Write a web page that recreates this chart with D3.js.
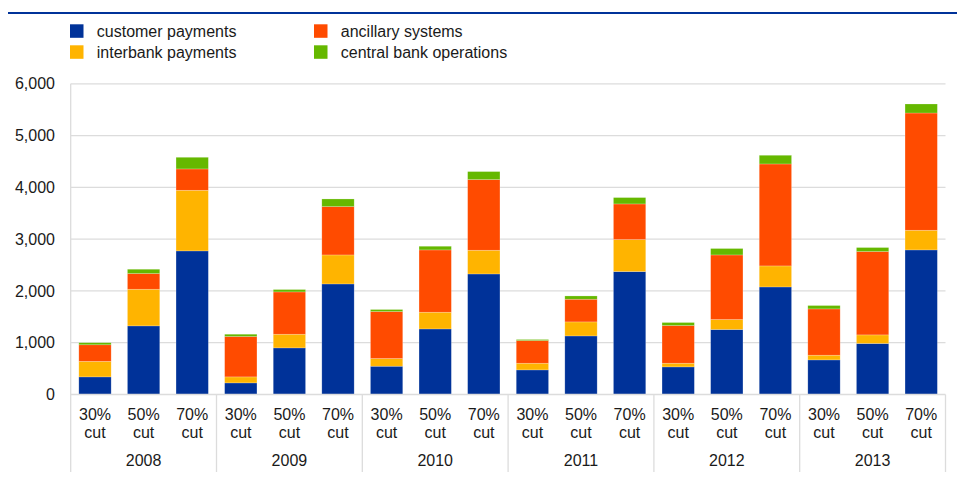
<!DOCTYPE html>
<html><head><meta charset="utf-8">
<script src="https://cdn.jsdelivr.net/npm/d3@7"></script>
<style>
body{margin:0;background:#fff;}
svg{display:block;font-family:"Liberation Sans",Arial,sans-serif;}
</style></head>
<body><svg id="c" width="957" height="480"></svg>
<script>
const years = ["2008","2009","2010","2011","2012","2013"];
const cuts = ["30%","50%","70%"];
const seriesNames = ["customer payments","interbank payments","ancillary systems","central bank operations"];
const seriesColors = ["#003299","#FFB400","#FF4B00","#65B800"];
const customerPayments = [340,1325,2773, 224,900,2135, 546,1266,2328, 475,1131,2374, 533,1255,2077, 668,985,2792];
const interbankPayments = [300,708,1171, 116,264,560, 149,323,458, 129,271,618, 71,193,406, 91,166,380];
const ancillarySystems = [320,303,412, 780,817,934, 907,1203,1365, 438,438,688, 728,1247,1969, 894,1610,2264];
const centralBankOps = [40,83,225, 44,46,147, 39,71,154, 20,63,123, 58,124,168, 65,77,174];
const yTicks = [0,1000,2000,3000,4000,5000,6000];

const rows = [];
years.forEach((yr,i)=>cuts.forEach((c,j)=>{
  const k=i*3+j;
  rows.push({idx:k,year:yr,cut:c,
    s0:customerPayments[k],s1:interbankPayments[k],s2:ancillarySystems[k],s3:centralBankOps[k]});
}));
const keys=["s0","s1","s2","s3"];
const stacked=d3.stack().keys(keys)(rows);

const svg=d3.select("#c");
const pLeft=70.7,pRight=945.5,pTop=83.8,pBottom=394.5;
const FS=16;
const x=d3.scaleBand().domain(rows.map(d=>d.idx)).range([pLeft,pRight]).paddingInner(0.335).paddingOuter(0.1675);
const y=d3.scaleLinear().domain([0,6000]).range([pBottom,pTop]);
const grid="#dcdcdc";
const txt="#1a1a1a";

// top rule
svg.append("line").attr("x1",8).attr("x2",957).attr("y1",13).attr("y2",13)
  .attr("stroke","#003299").attr("stroke-width",2);

// legend
const legPos=[[70,31],[70,52],[314,31],[314,52]];
[0,1,2,3].forEach(i=>{
  const p=legPos[i];
  svg.append("rect").attr("x",p[0]).attr("y",p[1]-6.7).attr("width",13.5).attr("height",13.5).attr("fill",seriesColors[i]);
  svg.append("text").attr("x",p[0]+26.8).attr("y",p[1]+0.5).attr("dy","0.35em")
    .attr("font-size",FS).attr("fill",txt).text(seriesNames[i]);
});

// gridlines
svg.append("g").selectAll("line").data(yTicks.filter(t=>t>0)).join("line")
  .attr("x1",pLeft).attr("x2",pRight).attr("y1",d=>y(d)).attr("y2",d=>y(d))
  .attr("stroke",grid).attr("stroke-width",1.3);

// y axis labels
const ya=svg.append("g").attr("transform",`translate(${pLeft},0)`)
  .call(d3.axisLeft(y).tickValues(yTicks).tickFormat(d3.format(",")).tickSize(0).tickPadding(15.7));
ya.select(".domain").remove();
ya.selectAll("text").attr("font-size",FS).attr("fill",txt).attr("font-family","Liberation Sans, Arial, sans-serif");

// bars
svg.append("g").selectAll("g").data(stacked).join("g")
  .attr("fill",(d,i)=>seriesColors[i])
  .selectAll("rect").data(d=>d).join("rect")
  .attr("x",d=>x(d.data.idx)).attr("width",x.bandwidth())
  .attr("y",d=>y(d[1])).attr("height",d=>y(d[0])-y(d[1]))
  .attr("stroke","rgba(255,255,255,0.35)").attr("stroke-width",0.6);

// axes lines
svg.append("line").attr("x1",pLeft).attr("x2",pRight).attr("y1",pBottom).attr("y2",pBottom).attr("stroke",grid).attr("stroke-width",1.3);
svg.append("line").attr("x1",pLeft).attr("x2",pLeft).attr("y1",pTop).attr("y2",472).attr("stroke",grid).attr("stroke-width",1.3);
// group separators + year labels
const step=x.step();
years.forEach((yr,i)=>{
  const xe=pLeft+(i+1)*3*step;
  svg.append("line").attr("x1",xe).attr("x2",xe).attr("y1",pBottom).attr("y2",472).attr("stroke",grid).attr("stroke-width",1.3);
  svg.append("text").attr("x",pLeft+(i*3+1.5)*step).attr("y",460.7).attr("dy","0.35em")
    .attr("text-anchor","middle").attr("font-size",FS).attr("fill",txt).text(yr);
});
// category labels
const cl=svg.append("g").selectAll("g").data(rows).join("g")
  .attr("transform",d=>`translate(${x(d.idx)+x.bandwidth()/2},0)`);
cl.append("text").attr("y",414).attr("dy","0.35em").attr("text-anchor","middle").attr("font-size",FS).attr("fill",txt).text(d=>d.cut);
cl.append("text").attr("y",432).attr("dy","0.35em").attr("text-anchor","middle").attr("font-size",FS).attr("fill",txt).text("cut");
</script></body></html>
